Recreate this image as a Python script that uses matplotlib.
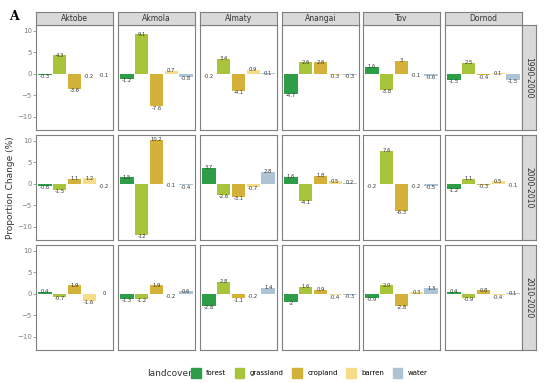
import matplotlib.pyplot as plt
import matplotlib.patches as mpatches
import numpy as np

regions = ['Aktobe', 'Akmola', 'Almaty', 'Anangai', 'Tov', 'Dornod']
periods = ['1990-2000', '2000-2010', '2010-2020']
landcover = ['forest', 'grassland', 'cropland', 'barren', 'water']
colors = ['#2e9d48', '#a8c43a', '#d4b23a', '#f5dc88', '#adc4d6']

# values per period, one list per region, in landcover order
p1990 = [[-0.3, 4.3, -3.6, -0.2, -0.1],
         [-1.2, 9.1, -7.6, 0.7, -0.8],
         [-0.2, 3.4, -4.1, 0.9, 0.1],
         [-4.7, 2.6, 2.6, -0.3, -0.3],
         [1.6, -3.8, 3, -0.1, -0.6],
         [-1.5, 2.5, -0.4, 0.1, -1.5]]
p2000 = [[-0.6, -1.5, 1.1, 1.2, -0.2],
         [1.5, -12, 10.2, -0.1, -0.4],
         [3.7, -2.6, -3.1, -0.7, 2.8],
         [1.6, -4.1, 1.8, 0.5, 0.2],
         [-0.2, 7.6, -6.3, -0.2, -0.5],
         [-1.2, 1.1, -0.3, 0.5, -0.1]]
p2010 = [[0.4, -0.7, 1.9, -1.6, 0],
         [-1.3, -1.2, 1.9, -0.2, 0.6],
         [-2.8, 2.8, -1.1, -0.2, 1.4],
         [-2, 1.6, 0.9, -0.4, -0.3],
         [-0.9, 2.0, -2.8, 0.3, 1.3],
         [0.4, -0.9, 0.8, -0.4, 0.1]]
data = [p1990, p2000, p2010]

W, H = 550, 383
fig = plt.figure(figsize=(W / 100, H / 100), dpi=100)

col_x = [36, 118, 200, 282, 363, 445]
pw = 77
row_y = [25, 135, 245]
ph = 105
grey = '#7f7f7f'

def box(x0, y0, w, h):
    return [x0 / W, 1 - (y0 + h) / H, w / W, h / H]

x = np.arange(1, 6)
for r, per in enumerate(periods):
    for c, reg in enumerate(regions):
        ax = fig.add_axes(box(col_x[c], row_y[r], pw, ph))
        vals = data[r][c]
        ax.bar(x, vals, width=0.9, color=colors)
        for xi, v in zip(x, vals):
            yy = v if v >= 0 else v - 0.4
            ax.text(xi, yy, str(v), ha='center', va='center', fontsize=3.8, color='#333333')
        ax.set_xlim(0.4, 5.6)
        ax.set_ylim(-13.1, 11.3)
        ax.set_xticks([])
        for s in ax.spines.values():
            s.set_color(grey)
            s.set_linewidth(0.8)
        if c == 0:
            ax.set_yticks([-10, -5, 0, 5, 10])
            ax.tick_params(axis='y', labelsize=5, colors=grey, length=2, width=0.5, pad=1)
        else:
            ax.set_yticks([])
        if r == 0:
            sax = fig.add_axes(box(col_x[c], 12, pw, 13))
            sax.set_xticks([]); sax.set_yticks([])
            sax.set_facecolor('#d9d9d9')
            for s in sax.spines.values():
                s.set_color(grey)
                s.set_linewidth(0.8)
            sax.text(0.5, 0.5, reg, ha='center', va='center', fontsize=5.5, color='#333333')
    rax = fig.add_axes(box(522, row_y[r], 14, ph))
    rax.set_xticks([]); rax.set_yticks([])
    rax.set_facecolor('#d9d9d9')
    for s in rax.spines.values():
        s.set_color(grey)
        s.set_linewidth(0.8)
    rax.text(0.5, 0.5, per, ha='center', va='center', rotation=270, fontsize=5.5, color='#333333')

fig.text(11 / W, 1 - 188 / H, 'Proportion Change (%)', rotation=90, ha='center', va='center',
         fontsize=6.5, color='#333333')
fig.text(14 / W, 1 - 17 / H, 'A', fontsize=9, fontweight='bold', family='DejaVu Serif',
         ha='center', va='center')

handles = [mpatches.Patch(color=col, label=lc) for col, lc in zip(colors, landcover)]
fig.text(170 / W, 1 - 373 / H, 'landcover', fontsize=6.5, ha='center', va='center', color='#333333')
fig.legend(handles=handles, ncol=5, loc='center left', bbox_to_anchor=(191 / W, 1 - 373 / H),
           frameon=False, fontsize=5, handlelength=1.4, handleheight=1.8, columnspacing=1.2,
           handletextpad=0.8, borderaxespad=0, borderpad=0)

fig.savefig('out.png', dpi=100)
